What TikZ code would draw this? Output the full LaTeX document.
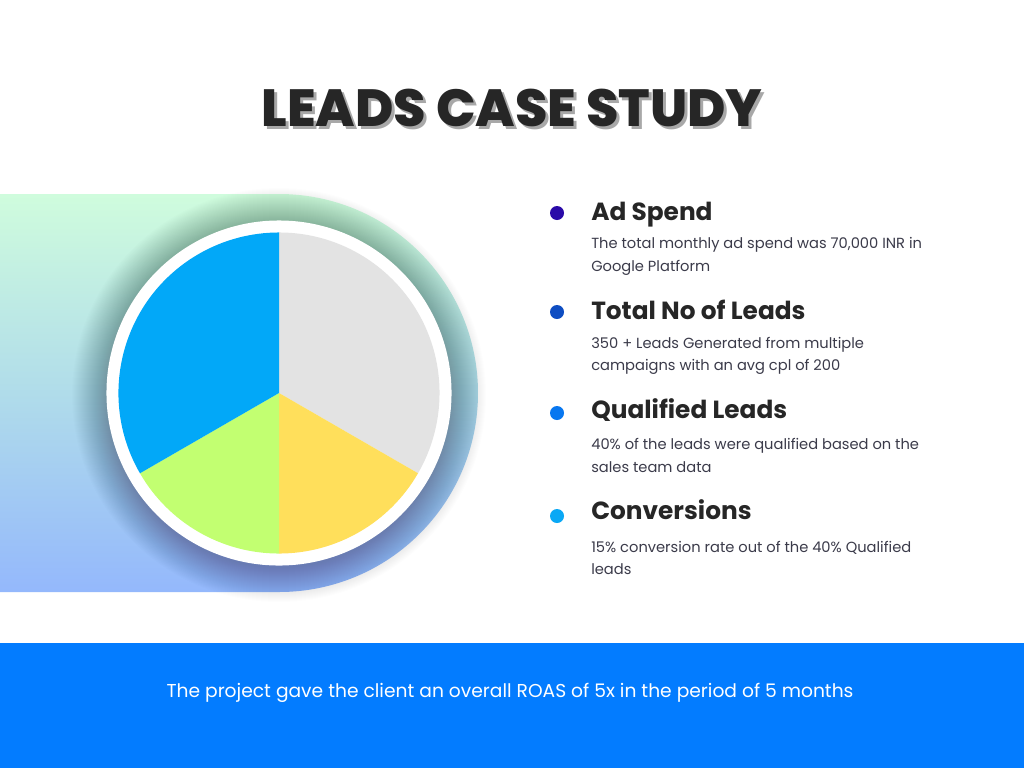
\documentclass[tikz,border=0pt]{standalone}
\usepackage{fontspec}
\setmainfont{Poppins}
\newfontfamily\titlefont{Poppins ExtraBold}
\definecolor{titlec}{HTML}{262626}
\definecolor{shadowc}{HTML}{A8A8A8}
\definecolor{headc}{HTML}{262626}
\definecolor{bodyc}{HTML}{3B3B4A}
\definecolor{gradtop}{HTML}{CFFCDD}
\definecolor{gradmid}{HTML}{B0DCEA}
\definecolor{gradbot}{HTML}{94B8FC}
\definecolor{pgrey}{HTML}{E3E3E3}
\definecolor{pyellow}{HTML}{FFDF5B}
\definecolor{pgreen}{HTML}{C2FF71}
\definecolor{pblue}{HTML}{02A8F8}
\definecolor{bul1}{HTML}{2A0AA8}
\definecolor{bul2}{HTML}{0E4DC2}
\definecolor{bul3}{HTML}{0877F0}
\definecolor{bul4}{HTML}{0AA8F5}
\definecolor{band}{HTML}{037CFF}
\tikzset{
  heading/.style={anchor=base west, inner sep=0pt, text=headc, font=\fontsize{18.6}{23}\selectfont\bfseries},
  bodyline/.style={anchor=base west, inner sep=0pt, text=bodyc, font=\fontsize{11}{17}\selectfont},
  bulletdot/.style={circle, inner sep=0pt, minimum size=10.5pt},
  titletext/.style={inner sep=0pt, font=\titlefont\fontsize{39.2}{47}\selectfont}
}
\begin{document}
\begin{tikzpicture}[x=0.75pt,y=-0.75pt]
\useasboundingbox (0,0) rectangle (1024,768);
\fill[white] (0,0) rectangle (1024,768);
% gradient shape
\shade[top color=gradtop, bottom color=gradbot, middle color=gradmid]
  (0,194) -- (279,194) arc[start angle=90, end angle=-90, radius=149.25pt] -- (0,592) -- cycle;
% shadow
\foreach \r in {0,...,34} {
  \fill[black, opacity=0.008] (279,395) circle[radius={(173+\r)*0.75pt}];
}
% white ring
\node[circle, fill=white, minimum size={2*129.4pt}, inner sep=0pt] (ring) at (279,393) {};
\coordinate (c) at (279,393);
\fill[pgrey] (c) -- ++(90:120.4pt) arc[start angle=90, end angle=-30, radius=120.4pt] -- cycle;
\fill[pyellow] (c) -- ++(-30:120.4pt) arc[start angle=-30, end angle=-90, radius=120.4pt] -- cycle;
\fill[pgreen] (c) -- ++(-90:120.4pt) arc[start angle=-90, end angle=-150, radius=120.4pt] -- cycle;
\fill[pblue] (c) -- ++(210:120.4pt) arc[start angle=210, end angle=90, radius=120.4pt] -- cycle;
% title
\node[titletext, text=shadowc] (tshadow) at (515,111) {LEADS CASE STUDY};
\node[titletext, text=titlec] (title) at (512,108) {LEADS CASE STUDY};
% bullets
\node[bulletdot, fill=bul1] (b1) at (557,213) {};
\node[bulletdot, fill=bul2] (b2) at (557,312) {};
\node[bulletdot, fill=bul3] (b3) at (557,413) {};
\node[bulletdot, fill=bul4] (b4) at (557,516) {};
% headings
\node[heading] (h1) at (591,220) {Ad Spend};
\node[heading] (h2) at (591,319) {Total No of Leads};
\node[heading] (h3) at (591,418) {Qualified Leads};
\node[heading] (h4) at (591,519) {Conversions};
% body
\node[bodyline] (t1a) at (591,248) {The total monthly ad spend was 70,000 INR in};
\node[bodyline] (t1b) at (591,271) {Google Platform};
\node[bodyline] (t2a) at (591,348) {350 + Leads Generated from multiple};
\node[bodyline] (t2b) at (591,370) {campaigns with an avg cpl of 200};
\node[bodyline] (t3a) at (591,449) {40\% of the leads were qualified based on the};
\node[bodyline] (t3b) at (591,472) {sales team data};
\node[bodyline] (t4a) at (591,552) {15\% conversion rate out of the 40\% Qualified};
\node[bodyline] (t4b) at (591,574) {leads};
% band
\fill[band] (0,643) rectangle (1024,768);
\node[anchor=base, inner sep=0pt, text=white, font=\fontsize{14}{16}\selectfont] (foot) at (510,697) {The project gave the client an overall ROAS of 5x in the period of 5 months};
\end{tikzpicture}
\end{document}
